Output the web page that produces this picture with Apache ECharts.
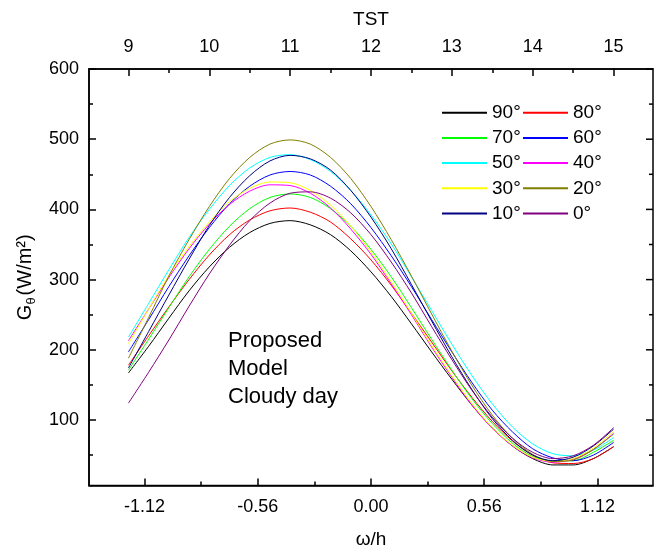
<!DOCTYPE html>
<html><head><meta charset="utf-8">
<script src="https://cdn.jsdelivr.net/npm/echarts@6/dist/echarts.min.js"></script>
<style>html,body{margin:0;padding:0;background:#fff}#c{width:659px;height:552px}</style>
</head><body><div id="c"></div>
<script>
// hour angle ω (rad) sample positions
const omega = [-1.2,-1.1,-1.0,-0.9,-0.8,-0.7,-0.6,-0.5,-0.4,-0.3,-0.2,-0.1,0,0.1,0.2,0.3,0.4,0.5,0.6,0.7,0.8,0.9,1.0,1.1,1.2];
// Gθ (W/m²) for each tilt angle
const g90 = [167,205,245,284,318,346,367,380,384,378,364,341,311,276,237,197,158,121,89,63,45,36,36,45,62];
const g80 = [178,220,261,300,335,364,385,398,402,396,382,358,328,292,252,211,170,132,98,70,50,39,38,45,62];
const g70 = [171,215,260,304,343,376,401,417,422,417,401,376,343,304,260,215,171,130,95,67,48,42,42,54,71];
const g60 = [197,243,290,334,374,408,433,449,454,449,433,408,374,334,290,243,197,153,114,83,59,46,42,50,68];
const g50 = [218,266,314,360,400,434,459,474,478,471,454,427,392,351,304,256,208,163,123,90,66,52,49,57,75];
const g40 = [213,258,303,344,379,407,426,435,434,423,402,372,336,294,250,204,161,121,88,63,46,40,44,58,81];
const g30 = [209,258,306,347,382,411,430,439,438,427,406,376,339,297,252,206,163,123,89,64,47,41,45,60,84];
const g20 = [188,246,305,357,404,444,474,493,499,493,474,444,404,357,305,251,198,149,107,74,51,41,43,58,80];
const g10 = [174,226,278,329,377,417,448,469,477,472,456,427,389,344,293,241,190,143,102,71,50,42,47,63,87];
const g0  = [124,168,214,262,308,349,384,409,423,425,416,395,364,325,281,233,186,142,104,74,54,45,49,64,89];

const names = ['90°','80°','70°','60°','50°','40°','30°','20°','10°','0°'];
const values = [g90,g80,g70,g60,g50,g40,g30,g20,g10,g0];
const colors = ['#000000','#FF0000','#00FF00','#0000FF','#00FFFF','#FF00FF','#FFFF00','#808000','#000080','#800080'];

const xMajor = [-1.12,-0.56,0,0.56,1.12];
const xMinor = [-0.84,-0.28,0.28,0.84];
const tstMajor = [9,10,11,12,13,14,15];
const tstMinor = [9.5,10.5,11.5,12.5,13.5,14.5];
const yMajor = [100,200,300,400,500,600];
const yMinor = [50,150,250,350,450,550];

const XMIN=-1.395, XMAX=1.395, TMIN=8.512, TMAX=15.488, YMIN=6.7, YMAX=600;
const FONT = 'Liberation Sans, Arial, sans-serif';
const LW = 1.5;

function lineOn(show){ return {show:show, onZero:false, lineStyle:{color:'#000', width:LW}}; }
function ticks(vals, len){ return {show:true, inside:true, length:len, customValues:vals, lineStyle:{color:'#000', width:LW}}; }

const xAxis = [
  {type:'value', gridIndex:0, position:'bottom', min:XMIN, max:XMAX, splitLine:{show:false}, axisLine:lineOn(true),
    axisTick:ticks(xMajor,7),
    axisLabel:{show:true, customValues:xMajor, formatter:v=>Number(v).toFixed(2), fontSize:18, color:'#000', margin:13, fontFamily:FONT},
    name:'ω/h', nameLocation:'middle', nameGap:45, nameTextStyle:{fontSize:19, color:'#000', fontFamily:FONT}},
  {type:'value', gridIndex:0, position:'top', min:TMIN, max:TMAX, splitLine:{show:false}, axisLine:lineOn(true),
    axisTick:ticks(tstMajor,7),
    axisLabel:{show:true, customValues:tstMajor, formatter:v=>String(v), fontSize:18, color:'#000', margin:13, fontFamily:FONT},
    name:'TST', nameLocation:'middle', nameGap:40, nameTextStyle:{fontSize:19, color:'#000', fontFamily:FONT}},
  {type:'value', gridIndex:1, position:'bottom', min:XMIN, max:XMAX, splitLine:{show:false}, axisLine:lineOn(false),
    axisTick:ticks(xMinor,4), axisLabel:{show:false}},
  {type:'value', gridIndex:1, position:'top', min:TMIN, max:TMAX, splitLine:{show:false}, axisLine:lineOn(false),
    axisTick:ticks(tstMinor,4), axisLabel:{show:false}}
];

const yAxis = [
  {type:'value', gridIndex:0, position:'left', min:YMIN, max:YMAX, splitLine:{show:false}, axisLine:lineOn(true),
    axisTick:ticks(yMajor,7),
    axisLabel:{show:true, customValues:yMajor, formatter:v=>String(v), fontSize:18, color:'#000', margin:10, fontFamily:FONT},
    name:'{g|G}{s|θ}{g|(W/m²)}', nameLocation:'middle', nameGap:50,
    nameTextStyle:{color:'#000', fontFamily:FONT, rich:{
      g:{fontSize:20, color:'#000', fontFamily:FONT, lineHeight:26, verticalAlign:'middle'},
      s:{fontSize:13, color:'#000', fontFamily:FONT, lineHeight:26, verticalAlign:'bottom', padding:[0,2,0,0]}
    }}},
  {type:'value', gridIndex:1, position:'left', min:YMIN, max:YMAX, splitLine:{show:false}, axisLine:lineOn(false),
    axisTick:ticks(yMinor,4), axisLabel:{show:false}}
];

const curveSeries = names.map((n,i)=>({
  name:n, type:'line', xAxisIndex:0, yAxisIndex:0, smooth:0.3,
  showSymbol:false, symbol:'none', animation:false,
  color:colors[i], lineStyle:{color:colors[i], width:1},
  data: omega.map((w,k)=>[w, values[i][k]])
}));

// right-edge ticks of the frame, placed through the y scale, pointing into the plot
function rightTicks(vals, len){
  return {type:'custom', xAxisIndex:0, yAxisIndex:0, silent:true, animation:false, z:5, clip:false,
    data: vals.map(v=>[XMAX, v]),
    renderItem:(params, api)=>{
      const p = api.coord([api.value(0), api.value(1)]);
      return {type:'line', shape:{x1:p[0]-len, y1:p[1], x2:p[0], y2:p[1]},
        style:{stroke:'#000', lineWidth:LW}};
    }};
}

const series = curveSeries.concat([rightTicks(yMajor,7), rightTicks(yMinor,4)]);

const legendCommon = {orient:'vertical', itemWidth:45, itemHeight:2, icon:'rect', itemGap:5.2,
  selectedMode:false, padding:0,
  textStyle:{fontSize:19, lineHeight:20, color:'#000', fontFamily:FONT}};

const gridRect = {left:89, right:6, top:69, bottom:66.5, containLabel:false, outerBoundsMode:'none'};

const chart = echarts.init(document.getElementById('c'), null, {renderer:'canvas'});
chart.setOption({
  animation:false,
  backgroundColor:'#fff',
  grid:[
    Object.assign({show:true, borderColor:'#000', borderWidth:LW, backgroundColor:'transparent'}, gridRect),
    Object.assign({show:false}, gridRect)
  ],
  xAxis, yAxis, series,
  legend:[
    Object.assign({left:442, top:102.7, data:['90°','70°','50°','30°','10°']}, legendCommon),
    Object.assign({left:523, top:102.7, data:['80°','60°','40°','20°','0°']}, legendCommon)
  ],
  graphic:[{type:'text', left:228, top:327, style:{text:'Proposed\nModel\nCloudy day', fontSize:22, lineHeight:28, fill:'#000', fontFamily:FONT}}]
});
</script></body></html>
